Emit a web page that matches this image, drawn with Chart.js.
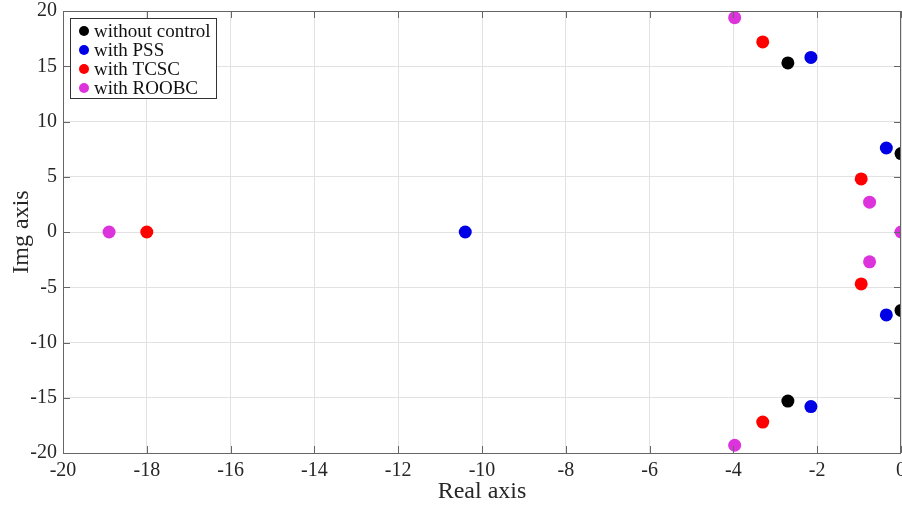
<!DOCTYPE html>
<html>
<head>
<meta charset="utf-8">
<script src="https://cdn.jsdelivr.net/npm/chart.js@4.4.0/dist/chart.umd.min.js"></script>
<style>
  html, body { margin: 0; padding: 0; background: #fff; }
  #wrap { width: 902px; height: 506px; }
</style>
</head>
<body>
<div id="wrap"><canvas id="rootscanvas" width="902" height="506"></canvas></div>
<script>
// eigenvalues (real, imaginary)
let seriesNames = ["without control", "with PSS", "with TCSC", "with ROOBC"];
let seriesColors = ["#000000", "#0000e6", "#ff0000", "#dd33dd"];

let noControlRe = [-2.7, -2.7, 0, 0];
let noControlIm = [15.3, -15.3, 7.1, -7.1];

let pssRe = [-2.15, -0.35, -10.4, -0.35, -2.15];
let pssIm = [15.8, 7.6, 0, -7.5, -15.8];

let tcscRe = [-3.3, -0.95, -18.0, -0.95, -3.3];
let tcscIm = [17.2, 4.8, 0, -4.7, -17.2];

let roobcRe = [-3.97, -0.75, -18.9, 0, -0.75, -3.97];
let roobcIm = [19.4, 2.7, 0, 0, -2.7, -19.3];

let xTicks = [-20, -18, -16, -14, -12, -10, -8, -6, -4, -2, 0];
let yTicks = [-20, -15, -10, -5, 0, 5, 10, 15, 20];

function toPoints(re, im) {
    return re.map(function(r, i) { return { x: r, y: im[i] }; });
}

let allRe = [noControlRe, pssRe, tcscRe, roobcRe];
let allIm = [noControlIm, pssIm, tcscIm, roobcIm];

let datasets = seriesNames.map(function(name, i) {
    return {
        label: name,
        data: toPoints(allRe[i], allIm[i]),
        backgroundColor: seriesColors[i],
        borderColor: seriesColors[i],
        borderWidth: 0,
        pointRadius: 6.5,
        pointHoverRadius: 6.5,
        clip: 0
    };
});

// matlab style frame, inward ticks and legend box
let frameLegend = {
    id: 'frameLegend',
    afterDraw: function(chart) {
        let ctx = chart.ctx;
        let a = chart.chartArea;
        let xs = chart.scales.x, ys = chart.scales.y;
        ctx.save();
        ctx.strokeStyle = '#666666';
        ctx.lineWidth = 1;
        ctx.beginPath();
        xTicks.forEach(function(t) {
            let px = Math.round(xs.getPixelForValue(t)) + 0.5;
            ctx.moveTo(px, a.bottom); ctx.lineTo(px, a.bottom - 7);
            ctx.moveTo(px, a.top); ctx.lineTo(px, a.top + 7);
        });
        yTicks.forEach(function(t) {
            let py = Math.round(ys.getPixelForValue(t)) + 0.5;
            ctx.moveTo(a.left, py); ctx.lineTo(a.left + 7, py);
            ctx.moveTo(a.right, py); ctx.lineTo(a.right - 7, py);
        });
        ctx.stroke();
        ctx.strokeRect(a.left + 0.5, a.top + 0.5, a.right - a.left - 1, a.bottom - a.top);

        // legend
        let lx = a.left + 7, ly = a.top + 7, lw = 146, lh = 80;
        ctx.fillStyle = '#ffffff';
        ctx.fillRect(lx, ly, lw, lh);
        ctx.strokeStyle = '#333333';
        ctx.strokeRect(lx + 0.5, ly + 0.5, lw, lh);
        ctx.font = '19px "Liberation Serif", serif';
        ctx.textBaseline = 'middle';
        chart.data.datasets.forEach(function(ds, i) {
            let cy = ly + 13 + i * 19;
            ctx.fillStyle = ds.backgroundColor;
            ctx.beginPath();
            ctx.arc(lx + 14, cy, 5, 0, Math.PI * 2);
            ctx.fill();
            ctx.fillStyle = '#111111';
            ctx.fillText(ds.label, lx + 24, cy + 1);
        });
        ctx.restore();
    }
};

let Canvas = document.getElementById('rootscanvas').getContext('2d');
let scatterChart = new Chart(Canvas, {
    type: 'scatter',
    data: { datasets: datasets },
    options: {
        responsive: false,
        animation: false,
        layout: { autoPadding: false, padding: { top: 11, right: 1, left: 0, bottom: 0 } },
        plugins: {
            legend: { display: false },
            tooltip: { enabled: false }
        },
        scales: {
            x: {
                type: 'linear',
                min: -20,
                max: 0,
                afterBuildTicks: function(axis) {
                    axis.ticks = xTicks.map(function(v) { return { value: v }; });
                },
                afterFit: function(axis) {
                    axis.height = 53;
                    axis.paddingLeft = 0;
                    axis.paddingRight = 0;
                },
                grid: { color: '#e2e2e2', drawTicks: false },
                border: { display: false },
                ticks: {
                    padding: 6,
                    maxRotation: 0,
                    autoSkip: false,
                    color: '#262626',
                    font: { family: '"Liberation Serif", serif', size: 20 }
                },
                title: {
                    display: true,
                    text: 'Real axis',
                    color: '#262626',
                    padding: { top: 0, bottom: 0 },
                    font: { family: '"Liberation Serif", serif', size: 24 }
                }
            },
            y: {
                type: 'linear',
                min: -20,
                max: 20,
                afterBuildTicks: function(axis) {
                    axis.ticks = yTicks.map(function(v) { return { value: v }; });
                },
                afterFit: function(axis) {
                    axis.width = 63;
                    axis.paddingTop = 0;
                    axis.paddingBottom = 0;
                },
                grid: { color: '#e2e2e2', drawTicks: false },
                border: { display: false },
                ticks: {
                    padding: 6,
                    autoSkip: false,
                    color: '#262626',
                    font: { family: '"Liberation Serif", serif', size: 20 }
                },
                title: {
                    display: true,
                    text: 'Img axis',
                    color: '#262626',
                    padding: { top: 7, bottom: 0 },
                    font: { family: '"Liberation Serif", serif', size: 24 }
                }
            }
        }
    },
    plugins: [frameLegend]
});
</script>
</body>
</html>
